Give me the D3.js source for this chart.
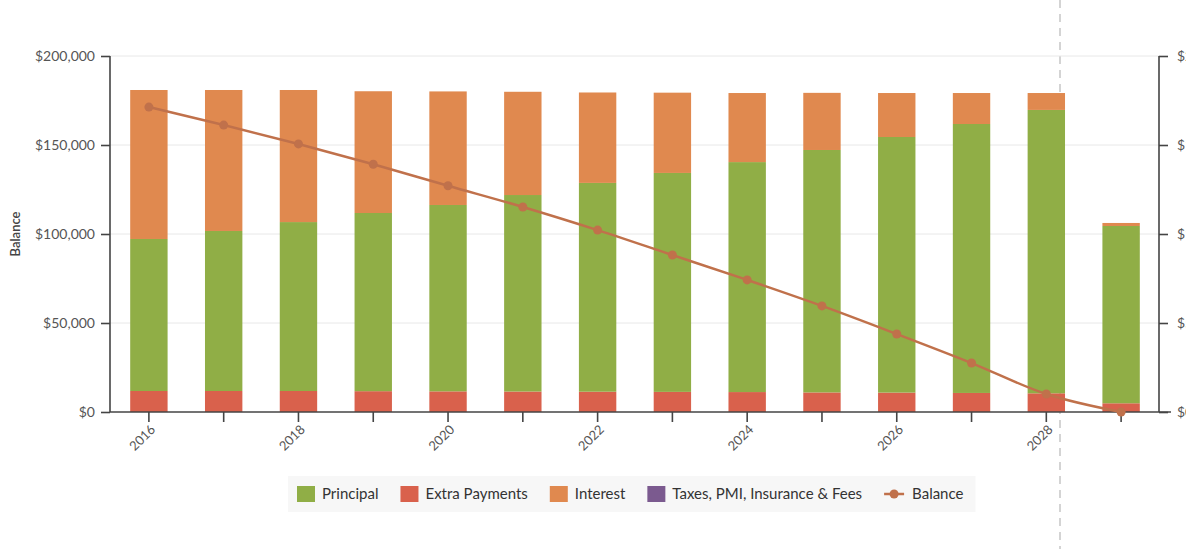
<!DOCTYPE html>
<html><head><meta charset="utf-8">
<script src="https://cdn.jsdelivr.net/npm/d3@7"></script>
<style>
html,body{margin:0;padding:0;background:#fff;}
svg{display:block;font-family:Lato,"Open Sans",sans-serif;}
</style></head>
<body><svg id="c" width="1186" height="549"></svg>
<script>
const years = [2016,2017,2018,2019,2020,2021,2022,2023,2024,2025,2026,2027,2028,2029];
const extraPayments = [11800,11800,11800,11700,11600,11500,11400,11300,11200,11000,10900,10700,10500,4900];
const principal = [85400,89900,94900,100100,104700,110400,117300,123000,129200,136200,143600,151100,159200,99600];
const interest = [83700,79200,74200,68400,63800,58000,50800,45100,38800,32100,24700,17400,9500,1700];
const taxesFees = [0,0,0,0,0,0,0,0,0,0,0,0,0,0];
const balance = [171300,161200,150600,139200,127100,115200,102200,88200,74200,59600,43800,27500,10100,0];
const yTicks = [0,50000,100000,150000,200000];
const seriesNames = ["Principal","Extra Payments","Interest","Taxes, PMI, Insurance & Fees","Balance"];
const colors = {"Principal":"#90ae46","Extra Payments":"#d9614c","Interest":"#e0894f","Taxes, PMI, Insurance & Fees":"#7b5a8f","Balance":"#c0714b"};

const svg = d3.select("#c");
const L = 110, R = 1159, T = 56, B = 412;
const x = d3.scaleBand().domain(years).range([L+1.5, R-0.5]).paddingInner(0.5).paddingOuter(0.25);
const y = d3.scaleLinear().domain([0,200000]).range([B,T]);

// scan artifact: dashed page edge
svg.append("line").attr("x1",1060).attr("x2",1060).attr("y1",0).attr("y2",549)
  .attr("stroke","#d4d4d4").attr("stroke-width",2).attr("stroke-dasharray","8,6");

// gridlines
svg.append("g").selectAll("line").data(yTicks.slice(1)).join("line")
  .attr("x1",L).attr("x2",R).attr("y1",d=>y(d)).attr("y2",d=>y(d))
  .attr("stroke","#e8e8e8").attr("stroke-width",1);

// stacked bars (bottom to top: extra, principal, interest, taxes)
const table = years.map((yr,i)=>({year:yr,"Extra Payments":extraPayments[i],"Principal":principal[i],"Interest":interest[i],"Taxes, PMI, Insurance & Fees":taxesFees[i]}));
const stack = d3.stack().keys(["Extra Payments","Principal","Interest","Taxes, PMI, Insurance & Fees"]);
const layers = stack(table);
svg.append("g").selectAll("g").data(layers).join("g")
  .attr("fill",d=>colors[d.key])
  .selectAll("rect").data(d=>d).join("rect")
  .attr("x",d=>x(d.data.year)).attr("width",x.bandwidth())
  .attr("y",d=>y(d[1])).attr("height",d=>Math.max(0,y(d[0])-y(d[1])));

// axes
const fmt = d=>"$"+d3.format(",")(d);
const gl = svg.append("g").attr("transform",`translate(${L},0)`)
  .call(d3.axisLeft(y).tickValues(yTicks).tickFormat(fmt).tickSize(9).tickPadding(6));
const gr = svg.append("g").attr("transform",`translate(${R},0)`)
  .call(d3.axisRight(y).tickValues(yTicks).tickFormat(fmt).tickSize(9).tickPadding(9));
const gb = svg.append("g").attr("transform",`translate(0,${B})`)
  .call(d3.axisBottom(x).tickFormat(d=>d%2===0?d:"").tickSize(10).tickSizeOuter(0));
[gl,gr,gb].forEach(g=>{
  g.select(".domain").attr("stroke","#444").attr("stroke-width",1.6);
  g.selectAll(".tick line").attr("stroke","#444").attr("stroke-width",1.6);
  g.selectAll("text").attr("fill","#555").style("font-family","Lato, sans-serif");
});
gl.selectAll("text").style("font-size","14px");
gr.selectAll("text").style("font-size","14px");
gb.select(".domain").attr("d",`M${L},0H${R+12}`);
gl.select(".domain").attr("d",`M0,${T}V${B}`);
gr.select(".domain").attr("d",`M0,${T}V${B}`);
gb.selectAll("text").style("font-size","13px").attr("text-anchor","end")
  .attr("transform","translate(-3,8) rotate(-45)").attr("dy","0.35em").attr("y",10);

// y title
svg.append("text").attr("transform",`translate(20,${(T+B)/2}) rotate(-90)`)
  .attr("text-anchor","middle").attr("fill","#444").style("font-size","13px").style("font-weight","600")
  .text("Balance");

// balance line
const line = d3.line().x((d,i)=>x(years[i])+x.bandwidth()/2).y(d=>y(d)).curve(d3.curveMonotoneX);
svg.append("path").datum(balance).attr("d",line).attr("fill","none")
  .attr("stroke",colors["Balance"]).attr("stroke-width",2.5);
svg.append("g").selectAll("circle").data(balance).join("circle")
  .attr("cx",(d,i)=>x(years[i])+x.bandwidth()/2).attr("cy",d=>y(d)).attr("r",4.5)
  .attr("fill",colors["Balance"]);

// legend
const lg = svg.append("g");
const bg = lg.append("rect").attr("fill","#f7f7f7");
let cx = 297; const ly = 494;
seriesNames.forEach(name=>{
  if(name==="Balance"){
    lg.append("line").attr("x1",cx).attr("x2",cx+20).attr("y1",ly).attr("y2",ly)
      .attr("stroke",colors[name]).attr("stroke-width",2.5);
    lg.append("circle").attr("cx",cx+10).attr("cy",ly).attr("r",4.5).attr("fill",colors[name]);
    cx += 28;
  } else {
    lg.append("rect").attr("x",cx).attr("y",ly-8).attr("width",18).attr("height",16).attr("fill",colors[name]);
    cx += 25;
  }
  const t = lg.append("text").attr("x",cx).attr("y",ly).attr("dy","0.35em")
    .attr("fill","#333").style("font-size","15px").text(name);
  cx += t.node().getComputedTextLength() + 22;
});
bg.attr("x",288).attr("y",476).attr("width",cx-22+12-288).attr("height",36);
</script></body></html>
